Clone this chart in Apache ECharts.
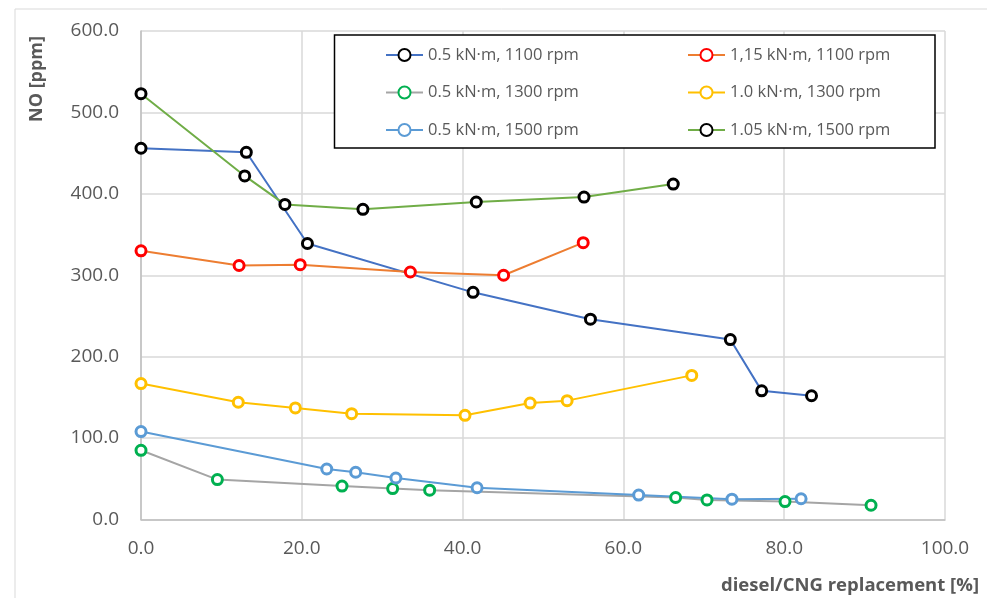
<!DOCTYPE html>
<html>
<head>
<meta charset="utf-8">
<script src="https://cdn.jsdelivr.net/npm/echarts@6/dist/echarts.min.js"></script>
<style>
  html, body { margin: 0; padding: 0; background: #ffffff; }
  #chart { width: 987px; height: 598px; }
</style>
</head>
<body>
<div id="chart"></div>
<script>
// Operating points: torque / engine speed
const seriesNames = [
  '0.5 kN·m, 1100 rpm',
  '1,15 kN·m, 1100 rpm',
  '0.5 kN·m, 1300 rpm',
  '1.0 kN·m, 1300 rpm',
  '0.5 kN·m, 1500 rpm',
  '1.05 kN·m, 1500 rpm'
];

// diesel/CNG replacement [%] and NO [ppm] for each operating point
const rep_05_1100 = [0, 13.1, 20.7, 41.3, 55.9, 73.3, 77.2, 83.4];
const no_05_1100  = [456, 451, 339, 279, 246, 221, 158, 152];

const rep_115_1100 = [0, 12.2, 19.8, 33.5, 45.1, 55.0];
const no_115_1100  = [330, 312, 313, 304, 300, 340];

const rep_05_1300 = [0, 9.5, 25.0, 31.3, 35.9, 66.5, 70.4, 80.1, 90.8];
const no_05_1300  = [85, 49, 41, 38, 36, 27, 24, 22, 17.5];

const rep_10_1300 = [0, 12.1, 19.2, 26.2, 40.3, 48.4, 53.0, 68.5];
const no_10_1300  = [167, 144, 137, 130, 128, 143, 146, 177];

const rep_05_1500 = [0, 23.1, 26.7, 31.7, 41.8, 61.9, 73.5, 82.1];
const no_05_1500  = [108, 62, 58, 51, 39, 30, 25, 25.5];

const rep_105_1500 = [0, 12.9, 17.9, 27.6, 41.7, 55.1, 66.2];
const no_105_1500  = [523, 422, 387, 381, 390, 396, 412];

// Axis ticks
const xTicks = { min: 0, max: 100, step: 20 };
const yTicks = { min: 0, max: 600, step: 100 };

const FONT = '"Open Sans", "Liberation Sans", sans-serif';
const TEXT_GRAY = '#595959';

function pairs(xs, ys) {
  return xs.map((x, i) => [x, ys[i]]);
}

function lineSeries(name, xs, ys, lineColor, markerColor) {
  return {
    name: name,
    type: 'line',
    data: pairs(xs, ys),
    symbol: 'circle',
    symbolSize: 10,
    showAllSymbol: true,
    lineStyle: { color: lineColor, width: 2 },
    itemStyle: { color: '#ffffff', borderColor: markerColor, borderWidth: 3 },
    emphasis: { disabled: true },
    animation: false
  };
}

const chart = echarts.init(document.getElementById('chart'), null, { renderer: 'canvas' });

const legendText = { color: TEXT_GRAY, fontSize: 16.5, fontFamily: FONT, lineHeight: 18 };

chart.setOption({
  backgroundColor: '#ffffff',
  animation: false,
  grid: { left: 141, top: 31, right: 42, bottom: 78.5, containLabel: false },
  xAxis: {
    type: 'value',
    min: xTicks.min, max: xTicks.max, interval: xTicks.step,
    axisLine: { show: true, lineStyle: { color: '#bfbfbf', width: 1.5 } },
    axisTick: { show: false },
    axisLabel: {
      margin: 20,
      color: TEXT_GRAY, fontSize: 19, fontFamily: FONT,
      formatter: v => v.toFixed(1)
    },
    splitLine: { show: true, lineStyle: { color: '#d9d9d9', width: 1.5 } }
  },
  yAxis: {
    type: 'value',
    min: yTicks.min, max: yTicks.max, interval: yTicks.step,
    axisLine: { show: true, lineStyle: { color: '#bfbfbf', width: 1.5 } },
    axisTick: { show: false },
    axisLabel: {
      margin: 22,
      color: TEXT_GRAY, fontSize: 19, fontFamily: FONT,
      formatter: v => v.toFixed(1)
    },
    splitLine: { show: true, lineStyle: { color: '#d9d9d9', width: 1.5 } }
  },
  legend: [
    {
      orient: 'vertical', left: 380, top: 41, z: 10,
      itemWidth: 37, itemHeight: 15, itemGap: 19.5,
      data: [seriesNames[0], seriesNames[2], seriesNames[4]],
      textStyle: legendText,
      selectedMode: false
    },
    {
      orient: 'vertical', left: 682, top: 41, z: 10,
      itemWidth: 37, itemHeight: 15, itemGap: 19.5,
      data: [seriesNames[1], seriesNames[3], seriesNames[5]],
      textStyle: legendText,
      selectedMode: false
    }
  ],
  graphic: [
    {
      type: 'rect', silent: true, z: -10,
      shape: { x: 15, y: 9, width: 1000, height: 620 },
      style: { fill: 'none', stroke: '#d9d9d9', lineWidth: 1 }
    },
    {
      type: 'rect', silent: true, z: 3,
      shape: { x: 334.5, y: 35, width: 600.5, height: 113 },
      style: { fill: '#ffffff', stroke: '#000000', lineWidth: 1.5 }
    },
    {
      type: 'text', silent: true,
      x: 37, y: 79, rotation: Math.PI / 2,
      style: {
        text: 'NO [ppm]', fill: TEXT_GRAY,
        font: 'bold 18px ' + FONT,
        textAlign: 'center', textVerticalAlign: 'middle'
      }
    },
    {
      type: 'text', silent: true,
      x: 979, y: 586,
      style: {
        text: 'diesel/CNG replacement [%]', fill: TEXT_GRAY,
        font: 'bold 18.5px ' + FONT,
        textAlign: 'right', textVerticalAlign: 'middle'
      }
    }
  ],
  series: [
    lineSeries(seriesNames[0], rep_05_1100, no_05_1100, '#4472C4', '#000000'),
    lineSeries(seriesNames[1], rep_115_1100, no_115_1100, '#ED7D31', '#FF0000'),
    lineSeries(seriesNames[2], rep_05_1300, no_05_1300, '#A5A5A5', '#00B050'),
    lineSeries(seriesNames[3], rep_10_1300, no_10_1300, '#FFC000', '#FFC000'),
    lineSeries(seriesNames[4], rep_05_1500, no_05_1500, '#5B9BD5', '#5B9BD5'),
    lineSeries(seriesNames[5], rep_105_1500, no_105_1500, '#70AD47', '#000000')
  ]
});
</script>
</body>
</html>
